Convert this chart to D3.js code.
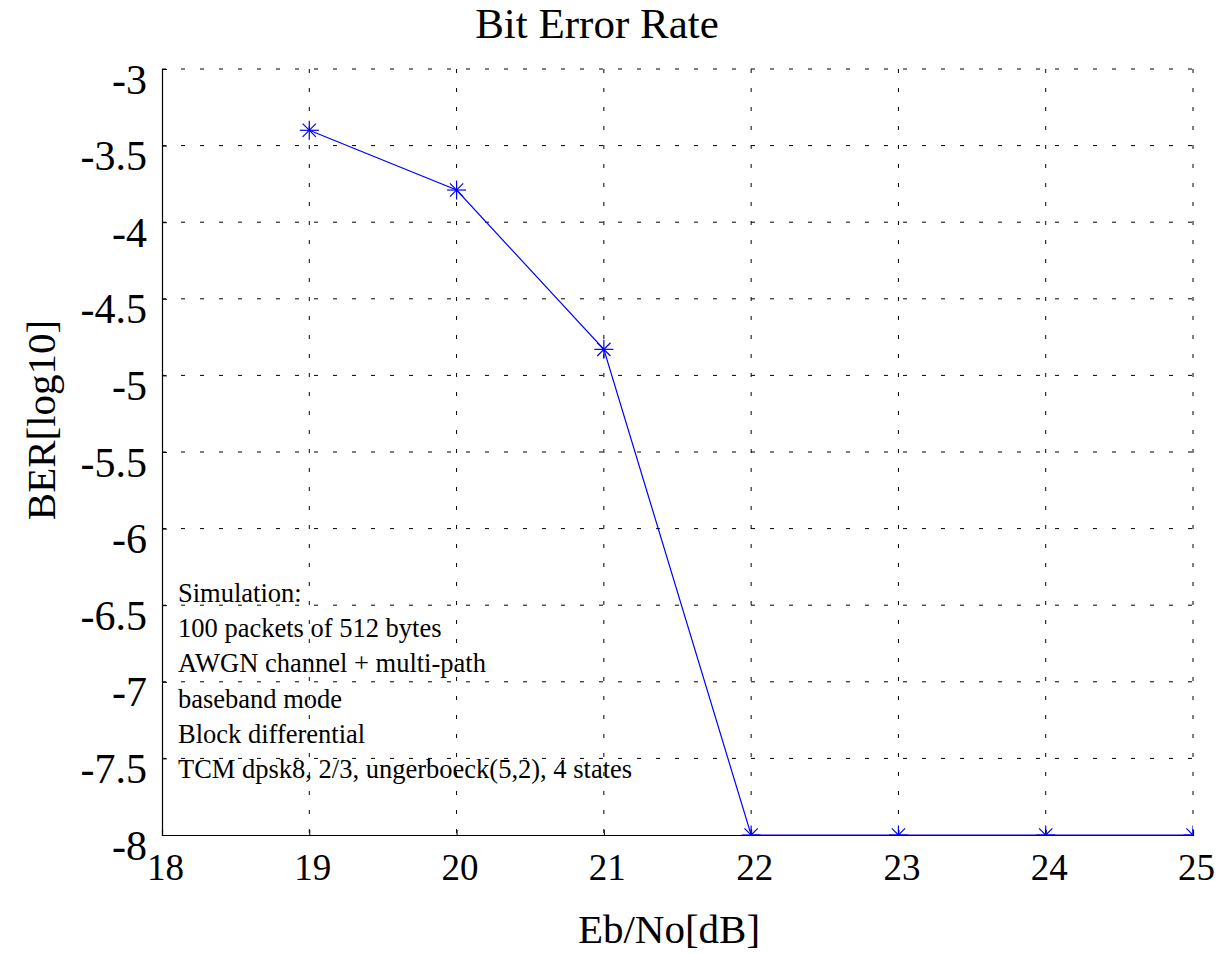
<!DOCTYPE html>
<html>
<head>
<meta charset="utf-8">
<script src="https://cdn.jsdelivr.net/npm/d3@7"></script>
<style>
  body { margin: 0; background: #fff; }
  svg { display: block; }
  svg text { font-family: "Times New Roman", Times, "Liberation Serif", "Nimbus Roman", serif; }
</style>
</head>
<body>
<svg id="chart" width="1218" height="954"></svg>
<script>

const ebno = [19, 20, 21, 22, 23, 24, 25]
const berLog = [-3.40, -3.79, -4.83, -8, -8, -8, -8]
const xTicks = [18, 19, 20, 21, 22, 23, 24, 25]
const yTicks = [-3, -3.5, -4, -4.5, -5, -5.5, -6, -6.5, -7, -7.5, -8]
const notes = [
  "Simulation:",
  "100 packets of 512 bytes",
  "AWGN channel + multi-path",
  "baseband mode",
  "Block differential",
  "TCM dpsk8, 2/3, ungerboeck(5,2), 4 states"
]

const plotLeft = 162, plotRight = 1193, plotTop = 69, plotBottom = 835

const svg = d3.select("#chart")

const x = d3.scaleLinear().domain([18, 25]).range([plotLeft, plotRight])
const y = d3.scaleLinear().domain([-8, -3]).range([plotBottom, plotTop])

svg.append("clipPath").attr("id", "plotClip")
   .append("rect")
   .attr("x", plotLeft).attr("y", plotTop)
   .attr("width", plotRight - plotLeft).attr("height", plotBottom - plotTop)

// grid
svg.append("g")
   .selectAll("line")
   .data(yTicks.filter(d => d != -8))
   .join("line")
   .attr("x1", plotLeft).attr("x2", plotRight)
   .attr("y1", d => y(d)).attr("y2", d => y(d))
   .attr("stroke", "#000")
   .attr("stroke-width", 1)
   .attr("stroke-dasharray", "4,15")

svg.append("g")
   .selectAll("line")
   .data(xTicks.filter(d => d != 18))
   .join("line")
   .attr("x1", d => x(d)).attr("x2", d => x(d))
   .attr("y1", plotTop).attr("y2", plotBottom)
   .attr("stroke", "#000")
   .attr("stroke-width", 1)
   .attr("stroke-dasharray", "4,15")

// axes
const xAxis = svg.append("g")
   .attr("transform", "translate(0," + plotBottom + ")")
   .call(d3.axisBottom(x).tickValues(xTicks).tickSize(-5).tickFormat(d => d))
   .attr("font-family", null)
const yAxis = svg.append("g")
   .attr("transform", "translate(" + plotLeft + ",0)")
   .call(d3.axisLeft(y).tickValues(yTicks).tickSize(-5).tickFormat(d => d))
   .attr("font-family", null)

xAxis.select(".domain").attr("stroke", "#000").attr("stroke-width", 1.2)
yAxis.select(".domain").attr("stroke", "#000").attr("stroke-width", 1.2)

xAxis.selectAll("text")
     .attr("font-size", 37)
     .attr("fill", "#000")
     .attr("y", 0)
     .attr("dy", 45)
     .attr("dx", 3)

yAxis.selectAll("text")
     .attr("font-size", 42)
     .attr("fill", "#000")
     .attr("x", -15)
     .attr("dy", 24)

// notes
svg.append("g")
   .selectAll("text")
   .data(notes)
   .join("text")
   .attr("x", 178)
   .attr("y", (d, i) => 602 + i * 35.2)
   .attr("font-size", 26.5)
   .attr("fill", "#000")
   .text(d => d)

// data line
const line = d3.line().x((d, i) => x(ebno[i])).y(d => y(d))

svg.append("path")
   .datum(berLog)
   .attr("d", line)
   .attr("fill", "none")
   .attr("stroke", "#0000ff")
   .attr("stroke-width", 1.2)

const r = 9.5
const markers = svg.append("g")
   .attr("clip-path", "url(#plotClip)")
   .selectAll("g")
   .data(berLog)
   .join("g")
   .attr("transform", (d, i) => "translate(" + x(ebno[i]) + "," + y(d) + ")")

const arms = [[-r, 0, r, 0], [0, -r, 0, r], [-r * 0.7, -r * 0.7, r * 0.7, r * 0.7], [-r * 0.7, r * 0.7, r * 0.7, -r * 0.7]]
arms.forEach(a => {
  markers.append("line")
         .attr("x1", a[0]).attr("y1", a[1])
         .attr("x2", a[2]).attr("y2", a[3])
         .attr("stroke", "#0000ff")
         .attr("stroke-width", 1.2)
})

// titles
svg.append("text")
   .attr("x", 597).attr("y", 38)
   .attr("text-anchor", "middle")
   .attr("font-size", 43)
   .text("Bit Error Rate")

svg.append("text")
   .attr("x", 669).attr("y", 943)
   .attr("text-anchor", "middle")
   .attr("font-size", 41)
   .text("Eb/No[dB]")

svg.append("text")
   .attr("transform", "translate(55,420) rotate(-90)")
   .attr("text-anchor", "middle")
   .attr("font-size", 41)
   .text("BER[log10]")

</script>
</body>
</html>
